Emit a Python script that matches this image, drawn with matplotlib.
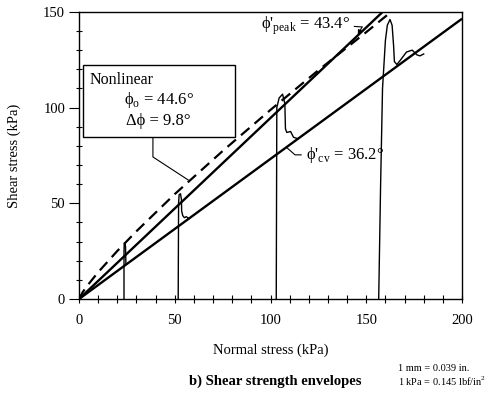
import matplotlib
matplotlib.use("Agg")
import matplotlib.pyplot as plt
from matplotlib.patches import Rectangle
from matplotlib.ticker import MultipleLocator

plt.rcParams['font.family'] = ['Liberation Serif', 'DejaVu Serif']
plt.rcParams['mathtext.fontset'] = 'custom'
plt.rcParams['mathtext.rm'] = 'Liberation Serif'

# Envelopes
peak_sigma = [0, 158.6]
peak_tau = [0, 150.0]
cv_sigma = [0, 200]
cv_tau = [0, 146.4]
nl_sigma = [0, 2, 5, 10, 20, 30, 50, 75, 100, 125, 150, 163]
nl_tau = [0, 3.7, 7.8, 14.0, 25.1, 35.4, 54.8, 77.3, 98.8, 119.5, 139.4, 150.0]

# Test paths
t1_sigma = [23.5, 23.5, 23.6, 24.0, 24.3, 24.4, 24.5]
t1_tau = [0, 25, 28.5, 29.0, 27.5, 22, 18.5]
t2_sigma = [51.8, 52.0, 52.3, 53.0, 53.5, 53.6, 54.2, 55.0, 56.0, 57.5]
t2_tau = [0, 50, 54.5, 55.0, 52, 46, 43.5, 42.5, 43.0, 42.0]
t3_sigma = [103.0, 103.3, 104.5, 106.3, 107.5, 107.8, 108.5, 110.5, 112.0, 114.4]
t3_tau = [0, 100, 105, 107, 102, 89, 87, 87.5, 84.5, 83.7]
t4_sigma = [156.5, 157.5, 158.5, 160.0, 161.0, 162.4, 163.5, 164.3, 164.7,
            166.0, 168.0, 171.0, 174.0, 176.5, 178.0, 180.0]
t4_tau = [0, 60, 110, 135, 143, 146, 143, 132, 124,
          122.5, 125, 129, 130, 127.5, 127, 128]

xticks = [0, 50, 100, 150, 200]
yticks = [0, 50, 100, 150]

fig = plt.figure(figsize=(5.0, 3.95), dpi=100)
ax = fig.add_axes([0.158, 0.243, 0.766, 0.727])

lw_env = 1.7
ax.plot(peak_sigma, peak_tau, color='black', lw=lw_env, solid_capstyle='butt')
ax.plot(cv_sigma, cv_tau, color='black', lw=lw_env, solid_capstyle='butt')
ax.plot(nl_sigma, nl_tau, color='black', lw=1.6, dashes=(5, 3))
for s, t in [(t1_sigma, t1_tau), (t2_sigma, t2_tau), (t3_sigma, t3_tau), (t4_sigma, t4_tau)]:
    ax.plot(s, t, color='black', lw=1.0)

ax.set_xlim(0, 200)
ax.set_ylim(0, 150)
ax.set_xticks(xticks)
ax.set_yticks(yticks)
ax.xaxis.set_minor_locator(MultipleLocator(10))
ax.yaxis.set_minor_locator(MultipleLocator(10))
ax.tick_params(axis='x', which='both', direction='inout', length=6, width=0.8,
               labelsize=10.5, pad=8)
ax.tick_params(axis='y', which='major', direction='out', length=7, width=0.8,
               labelsize=10.5, pad=3)
ax.tick_params(axis='y', which='minor', direction='inout', length=5, width=0.8)
for sp in ax.spines.values():
    sp.set_linewidth(1.0)

ax.set_xlabel('Normal stress (kPa)', fontsize=10.5, labelpad=12)
ax.set_ylabel('Shear stress (kPa)', fontsize=10.5, labelpad=16)

PHI = '\u03d5'

# Nonlinear box
ax.add_patch(Rectangle((2.1, 84.7), 79.4, 37.6, fill=True, facecolor='white',
                       edgecolor='black', lw=1.0, zorder=5, clip_on=False))
ax.text(5.5, 114.5, 'Nonlinear', fontsize=11.5, va='center', ha='left', zorder=6)
ax.text(41.5, 104.0, PHI + r"$_{\mathregular{o}}$ = 44.6°", fontsize=12,
        va='center', ha='center', zorder=6)
ax.text(41.5, 93.2, 'Δ' + PHI + " = 9.8°", fontsize=12, va='center',
        ha='center', zorder=6)
ax.plot([38.6, 38.6, 57.0], [84.7, 74.2, 62.2], color='black', lw=0.8)

# peak label
ax.text(95, 142.5, PHI + r"'$_{\mathregular{peak}}$ = 43.4°", fontsize=12,
        va='center', ha='left')
ax.plot([143.8, 147.8], [142.4, 142.1], color='black', lw=0.8)
ax.annotate('', xy=(145.6, 137.9), xytext=(147.8, 142.1),
            arrowprops=dict(arrowstyle='-|>', color='black', lw=0.8,
                            mutation_scale=7, shrinkA=0, shrinkB=0))

# cv label
ax.text(118.5, 75.0, PHI + r"'$_{\mathregular{cv}}$ = 36.2°", fontsize=12,
        va='center', ha='left')
ax.plot([116.0, 112.8, 108.6], [75.3, 75.3, 79.0], color='black', lw=0.8)

fig.text(0.55, 0.035, 'b) Shear strength envelopes', fontsize=10.5,
         fontweight='bold', ha='center', va='center')
fig.text(0.796, 0.068, '1 mm = 0.039 in.', fontsize=7.5, ha='left', va='center')
fig.text(0.796, 0.035, r'1 kPa = 0.145 lbf/in$^{\mathregular{2}}$', fontsize=7.5,
         ha='left', va='center')

fig.savefig('out.png', dpi=100)
